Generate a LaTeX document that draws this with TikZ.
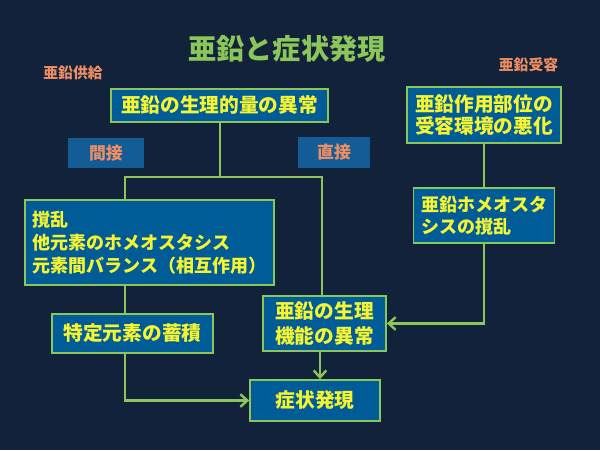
\documentclass[tikz,border=0pt]{standalone}
\usepackage{fontspec}
\setmainfont{Noto Sans CJK JP}
\usetikzlibrary{arrows.meta,positioning,calc}
\definecolor{navybg}{RGB}{17,34,58}
\definecolor{boxblue}{RGB}{0,92,150}
\definecolor{tagblue}{RGB}{20,92,150}
\definecolor{leaf}{RGB}{140,198,90}
\definecolor{lemon}{RGB}{245,245,50}
\definecolor{salmon}{RGB}{238,142,100}

\begin{document}
\begin{tikzpicture}[x=0.025cm,y=-0.025cm,
    zbox/.style={draw=leaf,line width=1.2pt,fill=boxblue,text=lemon,inner sep=0pt,
      font=\fontsize{14}{17}\selectfont\bfseries,align=left},
    tagbox/.style={fill=tagblue,text=salmon,inner sep=0pt,font=\fontsize{12}{14}\selectfont\bfseries},
    link/.style={leaf,line width=1.7pt},
    arr/.style={link,-{Straight Barb[length=5pt,width=9pt,line width=1.7pt]}}]
    \fill[navybg] (0,0) rectangle (600,450);
    \node[leaf,font=\fontsize{20}{24}\selectfont\bfseries] (title) at (287,48.5) {亜鉛と症状発現};
    \node[salmon,font=\fontsize{10.5}{12}\selectfont\bfseries] (supply) at (73,72.5) {亜鉛供給};
    \node[salmon,font=\fontsize{10.5}{12}\selectfont\bfseries] (accept) at (528.5,65) {亜鉛受容};

    \node[zbox,minimum width=217*0.025cm,minimum height=33*0.025cm] (A) at (219.5,105.5) {亜鉛の生理的量の異常};
    \node[tagbox,minimum width=76*0.025cm,minimum height=30*0.025cm] (B) at (106,153) {間接};
    \node[tagbox,minimum width=72*0.025cm,minimum height=31*0.025cm] (C) at (334,152.5) {直接};
    \node[zbox,minimum width=154*0.025cm,minimum height=56*0.025cm,font=\fontsize{14}{15.5}\selectfont\bfseries] (D) at (484,115) {亜鉛作用部位の\\受容環境の悪化};
    \node[zbox,minimum width=249*0.025cm,minimum height=85*0.025cm,font=\fontsize{12.8}{16.5}\selectfont\bfseries] (E) at (149.5,242.5) {撹乱\\他元素のホメオスタシス\\元素間バランス（相互作用）};
    \node[zbox,minimum width=141*0.025cm,minimum height=55*0.025cm,font=\fontsize{12.8}{15.4}\selectfont\bfseries] (F) at (484,215.5) {亜鉛ホメオスタ\\シスの撹乱};
    \node[zbox,minimum width=161*0.025cm,minimum height=39*0.025cm] (G) at (132.5,333.5) {特定元素の蓄積};
    \node[zbox,minimum width=123*0.025cm,minimum height=55*0.025cm,font=\fontsize{14}{17.5}\selectfont\bfseries] (H) at (324.5,323.5) {亜鉛の生理\\機能の異常};
    \node[zbox,minimum width=130*0.025cm,minimum height=41*0.025cm] (I) at (315,400.5) {症状発現};

    % branching from the supply side
    \coordinate (split) at (220,177);
    \coordinate (lft) at (125,177);
    \coordinate (rgt) at (322,177);
    \coordinate (down) at (320,0);
    \draw[link] (A.south -| split) -- (split);
    \draw[link] (E.north -| lft) |- (rgt) -- (H.north -| rgt);
    \draw[link] (E.south -| lft) -- (G.north -| lft);
    \draw[arr] (G.south -| lft) |- (I.west);
    \draw[arr] (H.south -| down) -- (I.north -| down);
    % acceptance side
    \draw[link] (D.south) -- (F.north);
    \draw[arr] (F.south) |- (H.east);
  \end{tikzpicture}
\end{document}
